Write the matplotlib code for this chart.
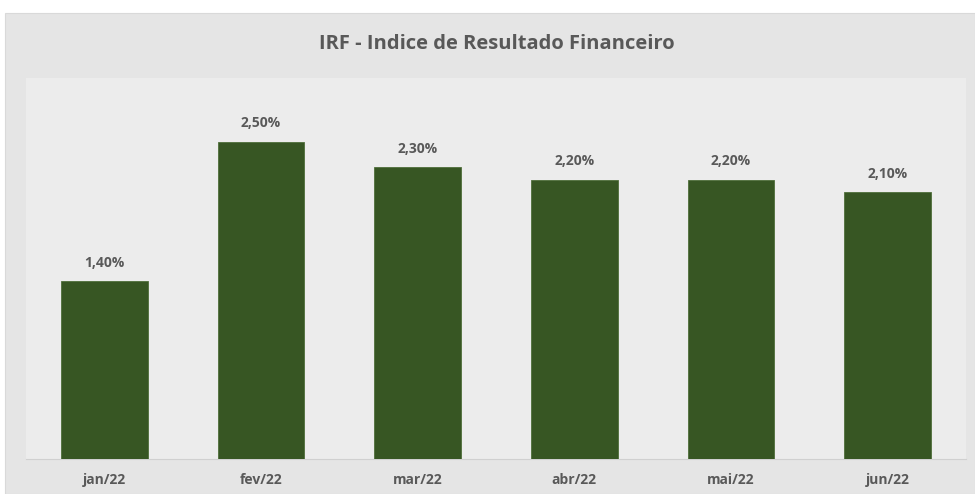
import matplotlib
matplotlib.use("Agg")
import matplotlib.pyplot as plt
from matplotlib.patches import Rectangle

months = ["jan/22", "fev/22", "mar/22", "abr/22", "mai/22", "jun/22"]
irf = [1.40, 2.50, 2.30, 2.20, 2.20, 2.10]
labels = ["1,40%", "2,50%", "2,30%", "2,20%", "2,20%", "2,10%"]

W, H = 975, 494
fig = plt.figure(figsize=(W / 100, H / 100), dpi=100, facecolor="white")
plt.rcParams["font.family"] = ["Open Sans", "DejaVu Sans"]

# outer chart frame (grey card), kept behind the axes
card = Rectangle((5 / W, 0), (W - 5) / W, (H - 13) / H,
                 transform=fig.transFigure, facecolor="#e5e5e5",
                 edgecolor="#d9d9d9", linewidth=0.8, zorder=-10)
fig.add_artist(card)

ax = fig.add_axes([26 / W, (H - 459) / H, (966 - 26) / W, (459 - 78) / H])
ax.set_zorder(5)
ax.set_facecolor("#ececec")
x = range(len(months))
bars = ax.bar(x, irf, width=0.555, color="#375623", edgecolor="#4f6e3a",
              linewidth=0.6, zorder=3)
for b, t in zip(bars, labels):
    ax.annotate(t, (b.get_x() + b.get_width() / 2, b.get_height()),
                xytext=(0, 8), textcoords="offset points", ha="center",
                va="bottom", fontsize=10, fontweight="bold", color="#595959")

ax.set_xlim(-0.5, len(months) - 0.5)
ax.set_ylim(0, 3.0)
ax.set_xticks(list(x))
ax.set_xticklabels(months, fontsize=10, fontweight="bold", color="#595959")
ax.tick_params(axis="x", length=0, pad=10)
ax.set_yticks([])
for s in ("top", "right", "left"):
    ax.spines[s].set_visible(False)
ax.spines["bottom"].set_color("#d0d0d0")
ax.spines["bottom"].set_linewidth(0.8)

fig.text(497 / W, (H - 44) / H, "IRF - Indice de Resultado Financeiro",
         ha="center", va="center", fontsize=14.5, fontweight="bold",
         color="#595959", zorder=10)

fig.savefig("out.png", dpi=100, facecolor="white")
